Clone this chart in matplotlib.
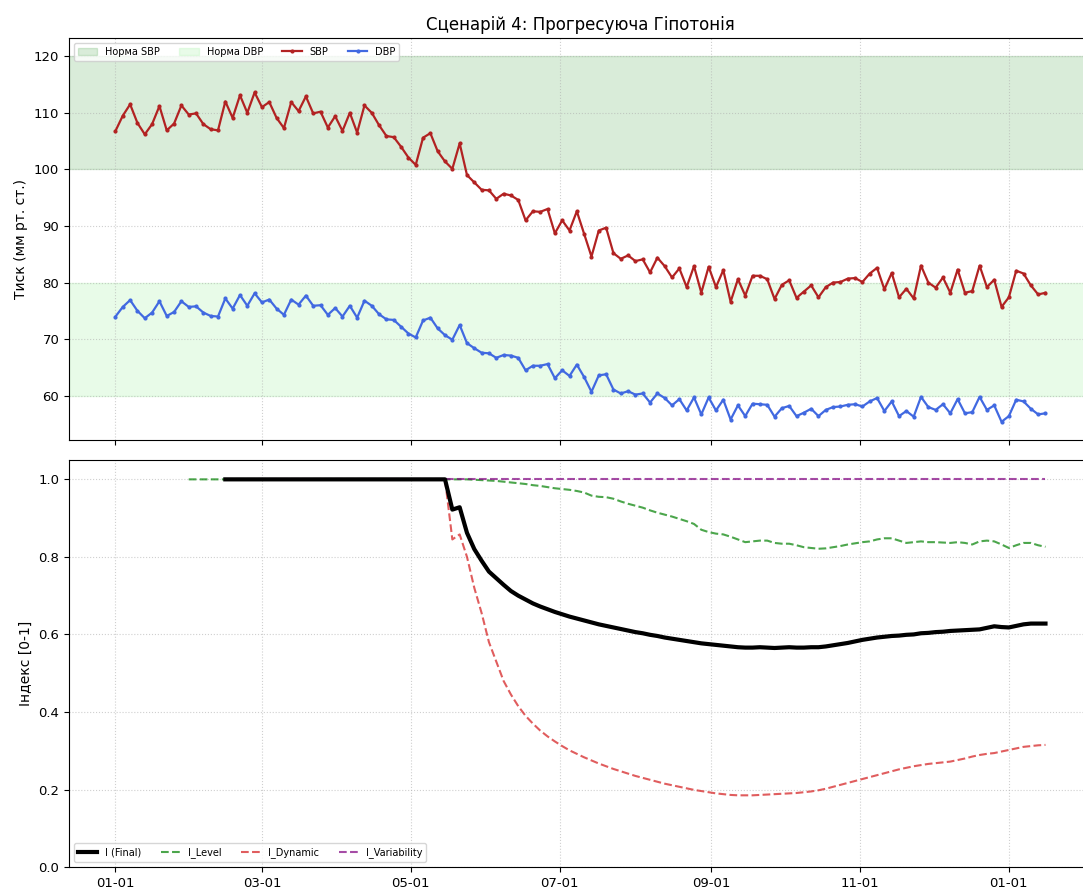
import matplotlib
matplotlib.use("Agg")
import matplotlib.pyplot as plt
import matplotlib.dates as mdates
import pandas as pd

# measurements every 3 days
dates = pd.date_range("2024-01-01", periods=128, freq="3D")

sbp = [
    106.8, 109.5, 111.5, 108.2, 106.2, 108.0, 111.2, 106.9, 108.1, 111.3,
    109.7, 109.9, 108.0, 107.1, 106.9, 112.0, 109.1, 113.1, 110.0, 113.6,
    111.0, 111.9, 109.1, 107.3, 111.9, 110.3, 112.9, 109.9, 110.2, 107.4,
    109.4, 106.8, 110.0, 106.5, 111.3, 110.0, 107.8, 105.9, 105.7, 104.0,
    102.1, 100.8, 105.6, 106.4, 103.2, 101.4, 100.1, 104.6, 99.0, 97.7,
    96.4, 96.3, 94.8, 95.7, 95.4, 94.6, 91.0, 92.6, 92.5, 93.0,
    88.7, 91.0, 89.2, 92.6, 88.6, 84.6, 89.2, 89.7, 85.2, 84.2,
    84.8, 83.8, 84.1, 81.8, 84.4, 82.9, 80.9, 82.5, 79.2, 82.9,
    78.2, 82.8, 79.2, 82.2, 76.6, 80.6, 77.7, 81.2, 81.2, 80.6,
    77.1, 79.6, 80.4, 77.3, 78.4, 79.5, 77.4, 79.2, 80.0, 80.1,
    80.7, 80.8, 80.1, 81.6, 82.6, 78.8, 81.7, 77.4, 78.9, 77.2,
    83.0, 80.0, 79.1, 80.9, 78.2, 82.3, 78.2, 78.5, 83.0, 79.2,
    80.5, 75.7, 77.4, 82.1, 81.6, 79.5, 77.9, 78.2,
]

dbp = [
    74.0, 75.7, 76.9, 75.0, 73.7, 74.7, 76.7, 74.1, 74.8, 76.7,
    75.7, 75.8, 74.7, 74.1, 74.0, 77.2, 75.4, 77.8, 75.9, 78.1,
    76.5, 77.0, 75.4, 74.3, 77.0, 76.1, 77.7, 75.9, 76.0, 74.3,
    75.5, 74.0, 75.9, 73.8, 76.8, 75.9, 74.4, 73.5, 73.4, 72.2,
    71.0, 70.3, 73.3, 73.8, 71.9, 70.7, 69.9, 72.5, 69.3, 68.4,
    67.6, 67.5, 66.7, 67.2, 67.1, 66.7, 64.5, 65.3, 65.3, 65.6,
    63.1, 64.5, 63.5, 65.5, 63.3, 60.7, 63.6, 63.8, 61.1, 60.4,
    60.8, 60.2, 60.4, 58.8, 60.4, 59.6, 58.3, 59.4, 57.4, 59.7,
    56.7, 59.7, 57.4, 59.3, 55.8, 58.3, 56.4, 58.6, 58.5, 58.4,
    56.3, 57.8, 58.2, 56.4, 57.0, 57.7, 56.4, 57.5, 58.0, 58.1,
    58.4, 58.5, 58.1, 59.0, 59.6, 57.3, 59.0, 56.4, 57.3, 56.3,
    59.8, 58.0, 57.5, 58.5, 56.9, 59.4, 56.9, 57.1, 59.8, 57.5,
    58.3, 55.4, 56.4, 59.3, 59.0, 57.7, 56.7, 56.9,
]

# index series start after the rolling window fills
level_start = 10
other_start = 15

i_level = [
    1.0, 1.0, 1.0, 1.0, 1.0, 1.0, 1.0, 1.0, 1.0, 1.0,
    1.0, 1.0, 1.0, 1.0, 1.0, 1.0, 1.0, 1.0, 1.0, 1.0,
    1.0, 1.0, 1.0, 1.0, 1.0, 1.0, 1.0, 1.0, 1.0, 1.0,
    1.0, 1.0, 1.0, 1.0, 1.0, 1.0, 1.0, 1.0, 1.0, 0.999,
    0.998, 0.997, 0.996, 0.994, 0.992, 0.990, 0.988, 0.985, 0.983, 0.980,
    0.977, 0.975, 0.973, 0.970, 0.966, 0.958, 0.955, 0.954, 0.950, 0.943,
    0.937, 0.932, 0.927, 0.920, 0.914, 0.909, 0.904, 0.898, 0.892, 0.885,
    0.870, 0.864, 0.860, 0.858, 0.852, 0.845, 0.838, 0.840, 0.842, 0.842,
    0.836, 0.834, 0.834, 0.830, 0.825, 0.823, 0.821, 0.822, 0.825, 0.828,
    0.832, 0.835, 0.838, 0.840, 0.845, 0.848, 0.848, 0.842, 0.836, 0.838,
    0.840, 0.838, 0.838, 0.837, 0.836, 0.838, 0.836, 0.832, 0.840, 0.842,
    0.840, 0.832, 0.823, 0.830, 0.836, 0.836, 0.830, 0.826,
]

i_final = [
    1.0, 1.0, 1.0, 1.0, 1.0, 1.0, 1.0, 1.0, 1.0, 1.0,
    1.0, 1.0, 1.0, 1.0, 1.0, 1.0, 1.0, 1.0, 1.0, 1.0,
    1.0, 1.0, 1.0, 1.0, 1.0, 1.0, 1.0, 1.0, 1.0, 1.0,
    1.0, 0.922, 0.928, 0.862, 0.820, 0.790, 0.762, 0.745, 0.728, 0.712,
    0.700, 0.690, 0.680, 0.672, 0.665, 0.658, 0.652, 0.646, 0.641, 0.636,
    0.631, 0.626, 0.622, 0.618, 0.614, 0.610, 0.606, 0.603, 0.599, 0.596,
    0.592, 0.589, 0.586, 0.583, 0.580, 0.577, 0.575, 0.573, 0.571, 0.569,
    0.567, 0.566, 0.566, 0.567, 0.566, 0.565, 0.566, 0.567, 0.566, 0.566,
    0.567, 0.567, 0.569, 0.572, 0.575, 0.578, 0.582, 0.586, 0.589, 0.592,
    0.594, 0.596, 0.597, 0.599, 0.600, 0.603, 0.604, 0.606, 0.607, 0.609,
    0.610, 0.611, 0.612, 0.613, 0.617, 0.621, 0.619, 0.618, 0.622, 0.626,
    0.628, 0.628, 0.628,
]

i_dynamic = [
    1.0, 1.0, 1.0, 1.0, 1.0, 1.0, 1.0, 1.0, 1.0, 1.0,
    1.0, 1.0, 1.0, 1.0, 1.0, 1.0, 1.0, 1.0, 1.0, 1.0,
    1.0, 1.0, 1.0, 1.0, 1.0, 1.0, 1.0, 1.0, 1.0, 1.0,
    1.0, 0.845, 0.858, 0.800, 0.720, 0.655, 0.580, 0.530, 0.480, 0.445,
    0.415, 0.390, 0.370, 0.352, 0.337, 0.324, 0.312, 0.301, 0.292, 0.283,
    0.275, 0.267, 0.260, 0.253, 0.247, 0.241, 0.235, 0.230, 0.225, 0.220,
    0.215, 0.211, 0.207, 0.203, 0.199, 0.196, 0.193, 0.190, 0.188, 0.186,
    0.185, 0.185, 0.185, 0.186, 0.187, 0.188, 0.189, 0.190, 0.191, 0.193,
    0.195, 0.198, 0.202, 0.207, 0.212, 0.217, 0.222, 0.227, 0.232, 0.237,
    0.242, 0.247, 0.252, 0.256, 0.260, 0.263, 0.266, 0.268, 0.270, 0.272,
    0.276, 0.280, 0.285, 0.289, 0.292, 0.294, 0.298, 0.302, 0.306, 0.310,
    0.312, 0.314, 0.315,
]

i_variability = [1.0] * len(i_final)

fig, (ax1, ax2) = plt.subplots(2, 1, sharex=True, figsize=(10.83, 8.89), dpi=100)
ax1.set_position([0.0637, 0.505, 0.9446, 0.4523])
ax2.set_position([0.0637, 0.0247, 0.9446, 0.4579])

# upper: blood pressure
ax1.axhspan(100, 120, color="green", alpha=0.15, label="Норма SBP")
ax1.axhspan(60, 80, color="lightgreen", alpha=0.2, label="Норма DBP")
ax1.plot(dates, sbp, color="#b22222", marker="o", markersize=2, linewidth=1.6, label="SBP")
ax1.plot(dates, dbp, color="royalblue", marker="o", markersize=2, linewidth=1.6, label="DBP")
ax1.set_title("Сценарій 4: Прогресуюча Гіпотонія", fontsize=12)
ax1.set_ylabel("Тиск (мм рт. ст.)", fontsize=10)
ax1.legend(loc="upper left", ncol=4, fontsize=7)
ax1.grid(True, linestyle=":", alpha=0.6)

# lower: indices
ax2.plot(dates[other_start:], i_final, color="black", linewidth=3, label="I (Final)", zorder=5)
ax2.plot(dates[level_start:], i_level, color="green", linestyle="--", alpha=0.7, linewidth=1.5, label="I_Level")
ax2.plot(dates[other_start:], i_dynamic, color="#d62728", linestyle="--", alpha=0.75, linewidth=1.5, label="I_Dynamic")
ax2.plot(dates[other_start:], i_variability, color="purple", linestyle="--", alpha=0.7, linewidth=1.5, label="I_Variability")
ax2.set_ylim(0, 1.05)
ax2.set_ylabel("Індекс [0-1]", fontsize=10)
ax2.legend(loc="lower left", ncol=4, fontsize=7)
ax2.grid(True, linestyle=":", alpha=0.6)

ax2.xaxis.set_major_locator(mdates.MonthLocator(bymonth=[1, 3, 5, 7, 9, 11]))
ax2.xaxis.set_major_formatter(mdates.DateFormatter("%m-%d"))
for ax in (ax1, ax2):
    ax.tick_params(labelsize=9.5)

fig.savefig("out.png", dpi=100)
